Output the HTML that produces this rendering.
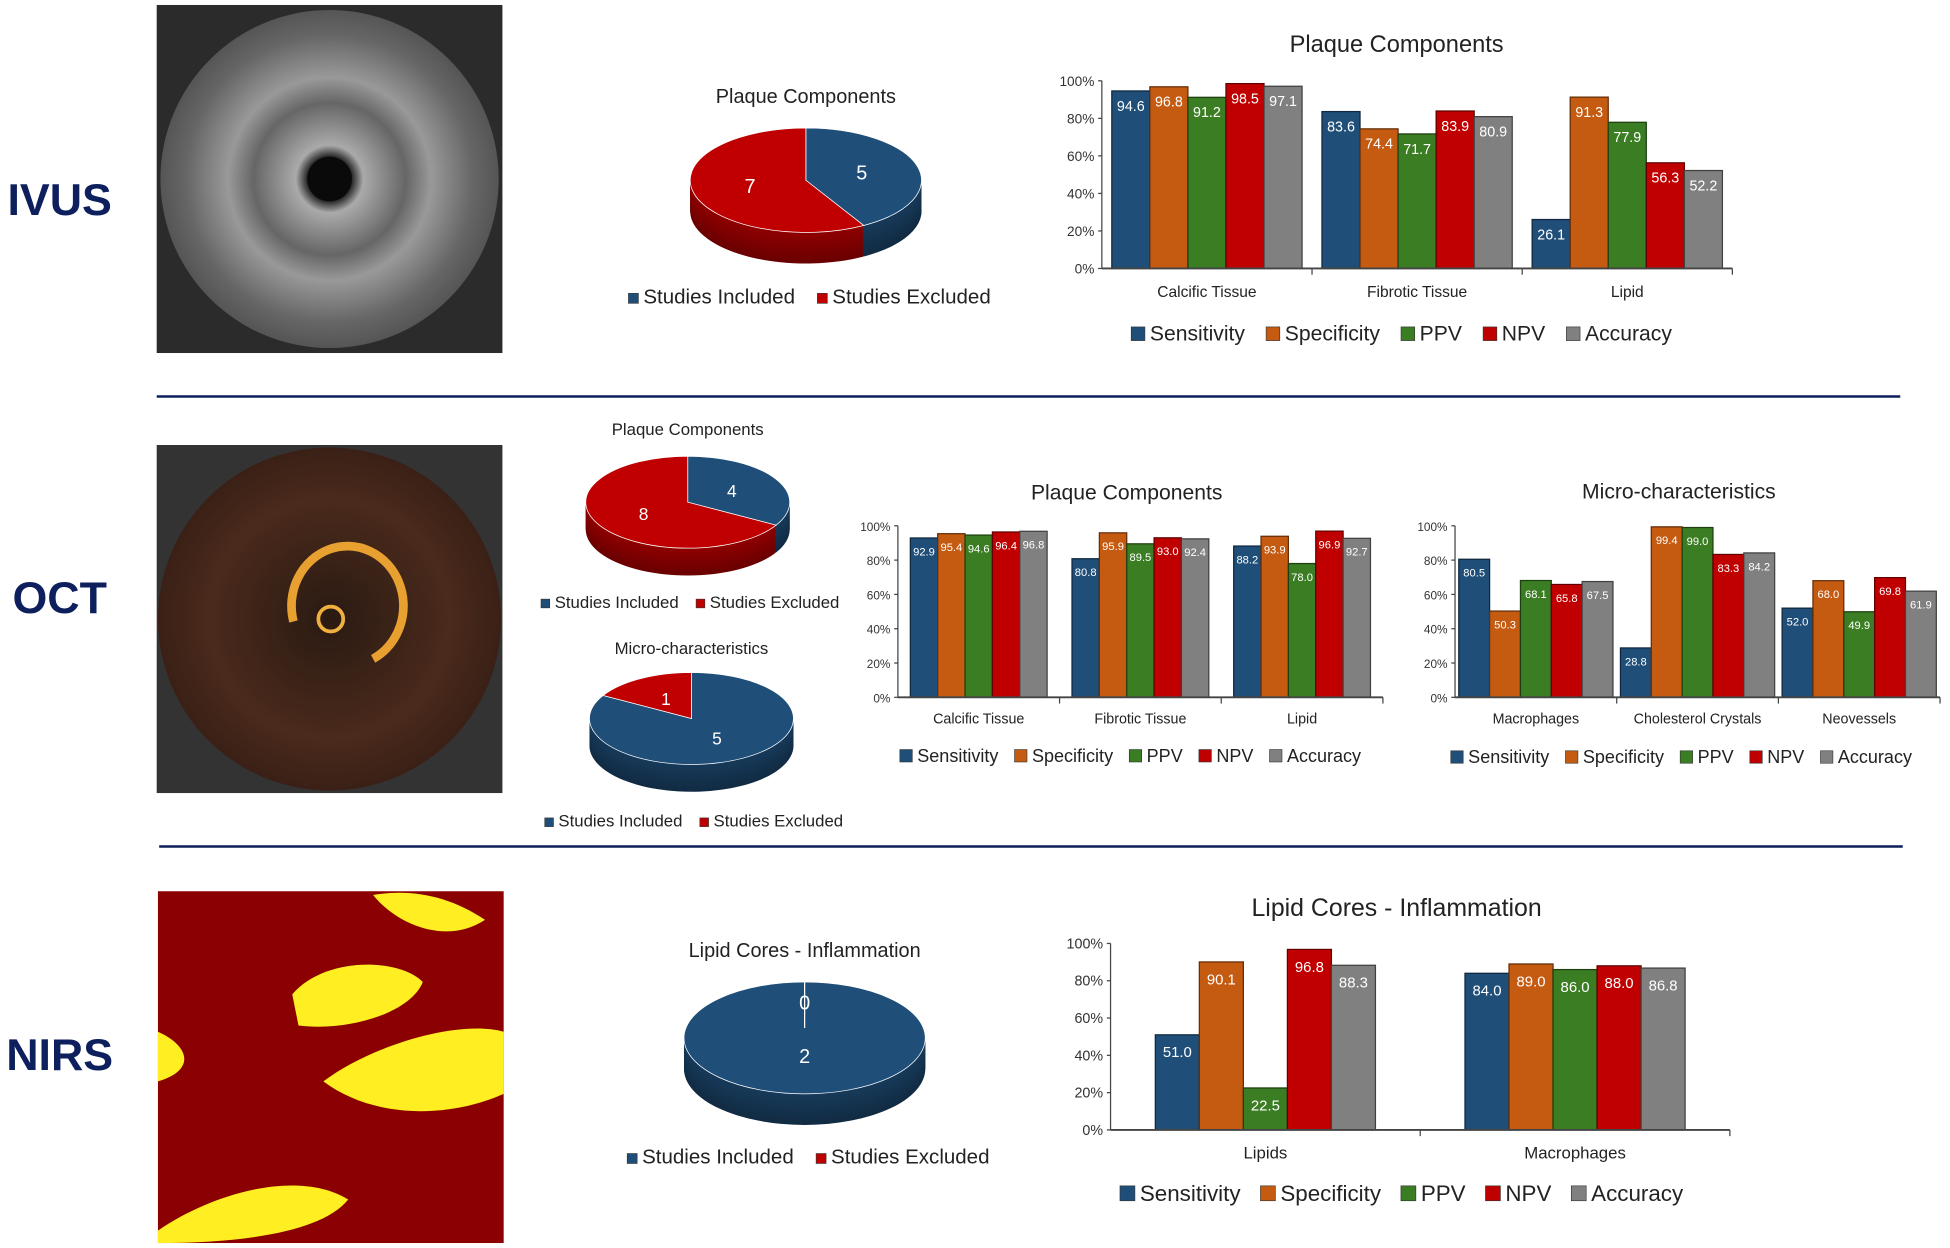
<!DOCTYPE html>
<html><head><meta charset="utf-8">
<style>
html,body{margin:0;padding:0;background:#fff;}
svg{display:block;font-family:"Liberation Sans",sans-serif;}
</style></head>
<body>
<svg id="root" width="1950" height="1248" viewBox="0 0 1568 1004" preserveAspectRatio="none" xmlns="http://www.w3.org/2000/svg">
<defs>
 <radialGradient id="ivusG" cx="50%" cy="50%" r="50%">
  <stop offset="0" stop-color="#222"/><stop offset="0.12" stop-color="#111"/><stop offset="0.2" stop-color="#aaa"/><stop offset="0.45" stop-color="#666"/><stop offset="0.6" stop-color="#999"/><stop offset="0.85" stop-color="#666"/><stop offset="1" stop-color="#555"/>
 </radialGradient>
 <radialGradient id="octG" cx="50%" cy="50%" r="50%">
  <stop offset="0" stop-color="#2a1a12"/><stop offset="0.7" stop-color="#4a2a1c"/><stop offset="1" stop-color="#3a2016"/>
 </radialGradient>
</defs>
<text x="48" y="173" font-size="36" font-weight="bold" fill="#0d1f5c" text-anchor="middle">IVUS</text>
<text x="48" y="493" font-size="36" font-weight="bold" fill="#0d1f5c" text-anchor="middle">OCT</text>
<text x="48" y="861" font-size="36" font-weight="bold" fill="#0d1f5c" text-anchor="middle">NIRS</text>
<g>
 <rect x="126" y="4" width="278" height="280" fill="#2b2b2b"/>
 <circle cx="265" cy="144" r="136" fill="url(#ivusG)"/>
 <circle cx="265" cy="144" r="18" fill="#0a0a0a"/>
</g>
<g>
 <rect x="126" y="358" width="278" height="280" fill="#333"/>
 <circle cx="265" cy="498" r="138" fill="url(#octG)"/>
 <path d="M236,500 A45,48 0 1 1 300,530" fill="none" stroke="#e8a030" stroke-width="7"/>
 <circle cx="266" cy="498" r="10" fill="none" stroke="#f0b040" stroke-width="3"/>
</g>
<g>
 <rect x="127" y="717" width="278" height="283" fill="#8b0000"/>
 <path d="M235,800 C260,770 320,770 340,790 C330,815 280,830 240,825 Z" fill="#ffee22"/>
 <path d="M127,830 C150,840 160,860 127,870 Z" fill="#ffee22"/>
 <path d="M300,720 C330,715 360,720 390,740 C360,760 320,745 300,720 Z" fill="#ffee22"/>
 <path d="M260,870 C300,840 370,820 405,830 L405,880 C360,900 300,900 260,870 Z" fill="#ffee22"/>
 <path d="M127,990 C170,960 240,940 280,965 C260,990 200,1000 127,1000 Z" fill="#ffee22"/>
</g>
<line x1="126" y1="319" x2="1528" y2="319" stroke="#0d1f5c" stroke-width="2"/>
<line x1="128" y1="681" x2="1530" y2="681" stroke="#0d1f5c" stroke-width="2"/>
<g id="charts"></g>
</svg>
<script>
const NS="http://www.w3.org/2000/svg";
const seriesNames=["Sensitivity","Specificity","PPV","NPV","Accuracy"];
const seriesColors=["#1f4e79","#c55a11","#3a7d22","#c00000","#808080"];
const pieLegendNames=["Studies Included","Studies Excluded"];
const ivusCats=["Calcific Tissue","Fibrotic Tissue","Lipid"];
const ivusSens=[94.6,83.6,26.1];
const ivusSpec=[96.8,74.4,91.3];
const ivusPPV=[91.2,71.7,77.9];
const ivusNPV=[98.5,83.9,56.3];
const ivusAcc=[97.1,80.9,52.2];
const octCats=["Calcific Tissue","Fibrotic Tissue","Lipid"];
const octSens=[92.9,80.8,88.2];
const octSpec=[95.4,95.9,93.9];
const octPPV=[94.6,89.5,78.0];
const octNPV=[96.4,93.0,96.9];
const octAcc=[96.8,92.4,92.7];
const microCats=["Macrophages","Cholesterol Crystals","Neovessels"];
const microSens=[80.5,28.8,52.0];
const microSpec=[50.3,99.4,68.0];
const microPPV=[68.1,99.0,49.9];
const microNPV=[65.8,83.3,69.8];
const microAcc=[67.5,84.2,61.9];
const nirsCats=["Lipids","Macrophages"];
const nirsSens=[51.0,84.0];
const nirsSpec=[90.1,89.0];
const nirsPPV=[22.5,86.0];
const nirsNPV=[96.8,88.0];
const nirsAcc=[88.3,86.8];
const yTicks=["0%","20%","40%","60%","80%","100%"];
const pieIvus=[5,7];
const pieOctPlaque=[4,8];
const pieOctMicro=[5,1];
const pieNirs=[2,0];

const root=document.getElementById('charts');
function el(tag,attrs,parent){const e=document.createElementNS(NS,tag);for(const k in attrs)e.setAttribute(k,attrs[k]);(parent||root).appendChild(e);return e;}
function txt(s,attrs,parent){const e=el('text',attrs,parent);e.textContent=s;return e;}
function shade(hex,f){const n=parseInt(hex.slice(1),16);let r=n>>16,g=(n>>8)&255,b=n&255;r=Math.round(r*f);g=Math.round(g*f);b=Math.round(b*f);return `rgb(${r},${g},${b})`;}

function legend(g,names,colors,cx,y,fs,sq,gap){
  const items=[];let total=0;
  names.forEach((n,i)=>{
    const ig=el('g',{},g);
    
    
    el('rect',{x:0,y:y-sq+1,width:sq,height:sq,fill:colors[i],stroke:'#333','stroke-width':0.5},ig);
    const t=txt(n,{x:sq+4,y:y+1,'font-size':fs,fill:'#222'},ig);
    const w=sq+4+t.getComputedTextLength();items.push([ig,w]);total+=w;
  });
  total+=gap*(names.length-1);let x=cx-total/2;
  items.forEach(([ig,w])=>{ig.setAttribute('transform',`translate(${x},0)`);x+=w+gap;});
}

function barChart(o){
  const g=el('g',{});
  
  
  const series=o.series;
  const ys=v=>o.y0-(o.y0-o.y100)*v/100;
  const tg=txt(o.title,{x:o.titleX,y:o.titleY,'font-size':o.titleFs,'text-anchor':'middle',fill:'#222'},g);
  
  
  yTicks.forEach((t,i)=>{
    const v=i*20;
    const tl=txt(t,{x:o.x0-6,y:ys(v)+4,'font-size':o.tickFs,'text-anchor':'end',fill:'#333'},g);
    
    
    el('line',{x1:o.x0-3,x2:o.x0,y1:ys(v),y2:ys(v),stroke:'#444'},g);
  });
  el('line',{x1:o.x0,x2:o.x0,y1:o.y100,y2:o.y0,stroke:'#444'},g);
  const n=o.cats.length,gw=(o.x1-o.x0)/n;
  const bw=(gw-2*o.pad)/series.length;
  o.cats.forEach((c,ci)=>{
    const gx=o.x0+ci*gw;
    series.forEach((s,si)=>{
      const v=s[ci],x=gx+o.pad+si*bw,y=ys(v);
      const r=el('rect',{x:x,y:y,width:bw,height:o.y0-y,fill:seriesColors[si],stroke:shade(seriesColors[si],0.5),'stroke-width':1},g);
      
      
      const lt=txt(v.toFixed(1),{x:x+bw/2,y:y+o.valOff,'font-size':o.valFs,'text-anchor':'middle',fill:'#fff'},g);
      
      
    });
    const cl=txt(c,{x:gx+gw/2,y:o.catY,'font-size':o.catFs,'text-anchor':'middle',fill:'#222'},g);
    
    
    el('line',{x1:gx+gw,x2:gx+gw,y1:o.y0,y2:o.y0+5,stroke:'#444'},g);
  });
  el('line',{x1:o.x0,x2:o.x1,y1:o.y0,y2:o.y0,stroke:'#444','stroke-width':1.5},g);
  legend(g,seriesNames,seriesColors,o.legX,o.legY,o.legFs,o.legSq,o.legGap);
}

barChart({name:'ivus-bar-chart',title:'Plaque Components',titleX:1123,titleY:42,titleFs:19,x0:886,x1:1393,y0:216,y100:65,cats:ivusCats,
  series:[ivusSens,ivusSpec,ivusPPV,ivusNPV,ivusAcc],pad:8,tickFs:11,valFs:11.5,valOff:16,catY:239,catFs:12.5,legX:1127,legY:273,legFs:17,legSq:11,legGap:17});
barChart({name:'oct-plaque-bar-chart',title:'Plaque Components',titleX:906,titleY:402,titleFs:17,x0:722,x1:1112,y0:561,y100:423,cats:octCats,
  series:[octSens,octSpec,octPPV,octNPV,octAcc],pad:10,tickFs:9.5,valFs:9,valOff:14,catY:582,catFs:11.5,legX:909,legY:612,legFs:14.5,legSq:10,legGap:13});
barChart({name:'oct-micro-bar-chart',title:'Micro-characteristics',titleX:1350,titleY:401,titleFs:17,x0:1170,x1:1560,y0:561,y100:423,cats:microCats,
  series:[microSens,microSpec,microPPV,microNPV,microAcc],pad:3,tickFs:9.5,valFs:9,valOff:14,catY:582,catFs:11.5,legX:1352,legY:613,legFs:14.5,legSq:10,legGap:13});
barChart({name:'nirs-bar-chart',title:'Lipid Cores - Inflammation',titleX:1123,titleY:737,titleFs:20,x0:893,x1:1391,y0:909,y100:759,cats:nirsCats,
  series:[nirsSens,nirsSpec,nirsPPV,nirsNPV,nirsAcc],pad:36,tickFs:11.5,valFs:12,valOff:18,catY:932,catFs:13.5,legX:1127,legY:965,legFs:18,legSq:12,legGap:16});

function pie(o){
  const g=el('g',{});
  
  
  const t=txt(o.title,{x:o.cx,y:o.titleY,'font-size':o.titleFs,'text-anchor':'middle',fill:'#222'},g);
  
  
  const total=o.data.reduce((a,b)=>a+b,0);
  const cols=["#1f4e79","#c00000"];
  const slices=[];let a=o.start;
  o.data.forEach((v,i)=>{const sp=v/total*360;slices.push([a,a+sp,i]);a+=sp;});
  const P=(ang,dy)=>[o.cx+o.rx*Math.cos(ang*Math.PI/180),o.cy+dy+o.ry*Math.sin(ang*Math.PI/180)];
  const path=(s,e,dy)=>{
    if(e-s>=359.99){return `M${o.cx-o.rx},${o.cy+dy} a${o.rx},${o.ry} 0 1 0 ${2*o.rx},0 a${o.rx},${o.ry} 0 1 0 ${-2*o.rx},0Z`;}
    const p1=P(s,dy),p2=P(e,dy);
    return `M${o.cx},${o.cy+dy} L${p1[0]},${p1[1]} A${o.rx},${o.ry} 0 ${e-s>180?1:0} 1 ${p2[0]},${p2[1]} Z`;
  };
  for(let d=o.depth;d>0;d-=1){
    slices.forEach(([s,e,i])=>{if(e>s)el('path',{d:path(s,e,d),fill:shade(cols[i],0.55+0.2*(1-d/o.depth))},g);});
  }
  slices.forEach(([s,e,i])=>{
    if(e<=s)return;
    const p=el('path',{d:path(s,e,0),fill:cols[i],stroke:'#fff','stroke-width':0.6},g);
    
    
  });
  slices.forEach(([s,e,i])=>{
    const m=(s+e)/2;let lx,ly;
    if(e-s>=359.99){lx=o.cx;ly=o.cy+20;}
    else if(e-s<=0){lx=o.cx;ly=o.cy-o.ry+22;el('line',{x1:o.cx,y1:o.cy-o.ry,x2:o.cx,y2:o.cy-8,stroke:'#fff'},g);}
    else{lx=o.cx+o.rx*0.5*Math.cos(m*Math.PI/180);ly=o.cy+o.ry*0.5*Math.sin(m*Math.PI/180)+5;}
    const vt=txt(String(o.data[i]),{x:lx,y:ly,'font-size':o.valFs,'text-anchor':'middle',fill:'#fff'},g);
    
    
  });
  legend(g,pieLegendNames,cols,o.cx+o.legDx,o.legY,o.legFs,o.legSq,o.legGap);
}
pie({name:'ivus-pie',title:'Plaque Components',titleY:83,titleFs:16,cx:648,cy:145,rx:93,ry:42,depth:25,start:-90,data:pieIvus,valFs:16,legDx:3,legY:243,legFs:16.5,legSq:8,legGap:18});
pie({name:'oct-plaque-pie',title:'Plaque Components',titleY:350,titleFs:13.5,cx:553,cy:404,rx:82,ry:37,depth:22,start:-90,data:pieOctPlaque,valFs:14,legDx:2,legY:488,legFs:13.5,legSq:7,legGap:14});
pie({name:'oct-micro-pie',title:'Micro-characteristics',titleY:526,titleFs:13.5,cx:556,cy:578,rx:82,ry:37,depth:22,start:-90,data:pieOctMicro,valFs:14,legDx:2,legY:664,legFs:13.5,legSq:7,legGap:14});
pie({name:'nirs-pie',title:'Lipid Cores - Inflammation',titleY:770,titleFs:16,cx:647,cy:835,rx:97,ry:45,depth:25,start:-90,data:pieNirs,valFs:16,legDx:3,legY:935,legFs:16.5,legSq:8,legGap:18});
</script>
</body></html>
